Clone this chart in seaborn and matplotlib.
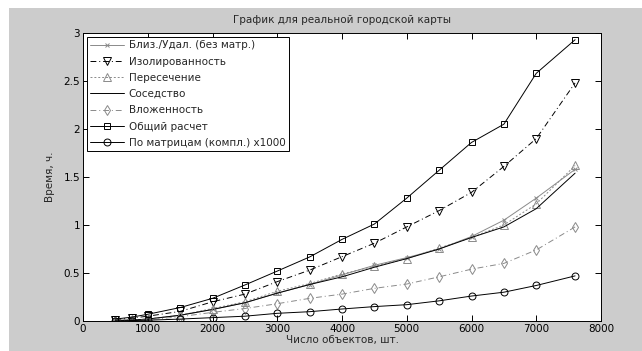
"""
plot.py
График времени расчёта для реальной городской карты (стиль MATLAB).
"""
import matplotlib
matplotlib.use("Agg")
import matplotlib.pyplot as plt
import matplotlib.patches as mpatches
import seaborn as sns

n_objects = [500, 750, 1000, 1500, 2000, 2500, 3000, 3500, 4000,
             4500, 5000, 5500, 6000, 6500, 7000, 7600]

near_far = [0.005, 0.01, 0.02, 0.06, 0.12, 0.19, 0.29, 0.38, 0.48,
            0.58, 0.66, 0.75, 0.88, 1.05, 1.28, 1.58]
isolation = [0.015, 0.03, 0.05, 0.10, 0.20, 0.28, 0.41, 0.53, 0.67,
             0.81, 0.98, 1.15, 1.34, 1.61, 1.90, 2.48]
intersection = [0.005, 0.01, 0.02, 0.06, 0.13, 0.20, 0.31, 0.39, 0.49,
                0.57, 0.65, 0.76, 0.87, 1.00, 1.22, 1.62]
neighbourhood = [0.005, 0.01, 0.02, 0.06, 0.12, 0.19, 0.29, 0.38, 0.46,
                 0.56, 0.65, 0.75, 0.87, 0.98, 1.17, 1.54]
nesting = [0.003, 0.006, 0.012, 0.045, 0.09, 0.13, 0.18, 0.236, 0.28,
           0.34, 0.385, 0.46, 0.54, 0.60, 0.74, 0.98]
total = [0.02, 0.04, 0.07, 0.14, 0.236, 0.375, 0.52, 0.667, 0.85,
         1.01, 1.28, 1.57, 1.86, 2.05, 2.58, 2.93]
matrices = [0.002, 0.004, 0.008, 0.02, 0.035, 0.05, 0.08, 0.097, 0.125,
            0.15, 0.17, 0.21, 0.26, 0.30, 0.37, 0.47]

labels = ["Близ./Удал. (без матр.)", "Изолированность", "Пересечение",
          "Соседство", "Вложенность", "Общий расчет",
          "По матрицам (компл.) x1000"]

GRAY = "#8a8a8a"
BLACK = "#000000"
BG = "#cccccc"

styles = [
    dict(color=GRAY, marker="x", linestyle="-", markersize=3.5),
    dict(color=BLACK, marker="v", linestyle=(0, (6, 3, 1, 3)), markersize=5.5),
    dict(color=GRAY, marker="^", linestyle=(0, (2, 2)), markersize=5.5),
    dict(color=BLACK, marker=None, linestyle="-", markersize=0),
    dict(color=GRAY, marker="d", linestyle=(0, (6, 3, 1, 3)), markersize=5.5),
    dict(color=BLACK, marker="s", linestyle="-", markersize=5),
    dict(color=BLACK, marker="o", linestyle="-", markersize=5),
]
series = [near_far, isolation, intersection, neighbourhood, nesting, total, matrices]

sns.set_style("white")
plt.rcParams["font.family"] = ["DejaVu Sans"]
plt.rcParams["font.size"] = 7.5

fig = plt.figure(figsize=(6.42, 3.51), dpi=100, facecolor="white")
fig.patches.append(mpatches.Rectangle((9 / 642, 0), 1, 1 - 8 / 351,
                                      transform=fig.transFigure,
                                      facecolor=BG, edgecolor="none", zorder=-10))
ax = fig.add_axes([83 / 642, 30 / 351, 518 / 642, 288 / 351])
ax.set_facecolor("white")

for y, lab, st in zip(series, labels, styles):
    sns.lineplot(x=n_objects, y=y, ax=ax, label=lab, color=st["color"],
                 linestyle=st["linestyle"], marker=st["marker"],
                 markersize=st["markersize"], markerfacecolor="none",
                 markeredgecolor=st["color"], markeredgewidth=0.7,
                 linewidth=0.7)

ax.set_xlim(0, 8000)
ax.set_ylim(0, 3)
ax.set_xticks(range(0, 8001, 1000))
ax.set_yticks([0, 0.5, 1, 1.5, 2, 2.5, 3])
ax.set_yticklabels(["0", "0.5", "1", "1.5", "2", "2.5", "3"])
ax.tick_params(direction="in", length=4, width=0.7, top=True, right=True,
               bottom=True, left=True, labelsize=7.5, pad=2, colors=BLACK)
for sp in ax.spines.values():
    sp.set_color(BLACK)
    sp.set_linewidth(0.7)

ax.set_title("График для реальной городской карты", fontsize=7.5, pad=7)
ax.set_xlabel("Число объектов, шт.", fontsize=7.5, labelpad=1)
ax.set_ylabel("Время, ч.", fontsize=7.5, labelpad=6)

leg = ax.legend(loc="upper left", fontsize=7.5, frameon=True, fancybox=False,
                edgecolor=BLACK, framealpha=1, handlelength=3.2,
                borderaxespad=0.35, labelspacing=0.6, handletextpad=0.5,
                borderpad=0.35)
leg.get_frame().set_linewidth(0.7)

plt.savefig("out.png", dpi=100, facecolor=fig.get_facecolor())
